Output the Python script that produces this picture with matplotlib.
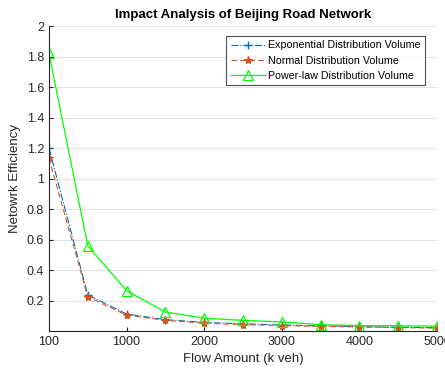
import matplotlib.pyplot as plt
import numpy as np

flow_amount = [100, 500, 1000, 1500, 2000, 2500, 3000, 3500, 4000, 4500, 5000]
exp_eff = [1.20, 0.237, 0.112, 0.075, 0.057, 0.047, 0.040, 0.034, 0.029, 0.025, 0.022]
norm_eff = [1.135, 0.225, 0.105, 0.070, 0.052, 0.043, 0.036, 0.031, 0.027, 0.023, 0.020]
power_eff = [1.82, 0.56, 0.265, 0.125, 0.085, 0.070, 0.060, 0.042, 0.036, 0.035, 0.032]

tick_labels = ['100', '1000', '2000', '3000', '4000', '5000']
y_ticks = [0.2, 0.4, 0.6, 0.8, 1.0, 1.2, 1.4, 1.6, 1.8, 2.0]

plt.rcParams['font.family'] = ['Liberation Sans', 'DejaVu Sans']
plt.rcParams['font.size'] = 8.5

# the first sample (100) sits at the axis origin, the rest on a 500 grid
x_pos = np.arange(len(flow_amount)) * 500

fig = plt.figure(figsize=(4.45, 3.72), dpi=100)
ax = fig.add_axes([0.110, 0.110, 0.872, 0.820])

ax.plot(x_pos, exp_eff, color='#0072BD', linestyle='-.', linewidth=0.8,
        marker='+', markersize=6, markeredgewidth=1.0,
        label='Exponential Distribution Volume')
ax.plot(x_pos, norm_eff, color='#D95319', linestyle=(0, (5, 3)), linewidth=0.8,
        marker='*', markersize=6, markeredgewidth=0.8,
        label='Normal Distribution Volume')
ax.plot(x_pos, power_eff, color='#00FF00', linestyle='-', linewidth=0.9,
        marker='^', markersize=7, markerfacecolor='none', markeredgewidth=0.9,
        label='Power-law Distribution Volume')

ax.set_xlim(0, 5000)
ax.set_ylim(0.0, 2.0)
ax.set_xticks([0, 1000, 2000, 3000, 4000, 5000])
ax.set_xticklabels(tick_labels)
ax.set_yticks(y_ticks)
ax.set_yticklabels(['0.2', '0.4', '0.6', '0.8', '1', '1.2', '1.4', '1.6', '1.8', '2'])

ax.yaxis.grid(True, color='#e3e3e3', linewidth=0.8)
ax.set_axisbelow(True)
for side in ('top', 'right'):
    ax.spines[side].set_visible(False)
for side in ('left', 'bottom'):
    ax.spines[side].set_color('#262626')
    ax.spines[side].set_linewidth(0.8)
ax.tick_params(direction='in', length=3, colors='#262626', labelsize=9)

ax.set_title('Impact Analysis of Beijing Road Network', fontsize=9.5, fontweight='bold', pad=6)
ax.set_xlabel('Flow Amount (k veh)', fontsize=9.5, color='#262626')
ax.set_ylabel('Netowrk Efficiency', fontsize=9.5, color='#262626')

leg = ax.legend(loc='upper right', bbox_to_anchor=(0.969, 0.967), borderaxespad=0,
                fontsize=7.7, frameon=True, fancybox=False, handlelength=3.2,
                borderpad=0.4, labelspacing=0.5, handletextpad=0.3)
leg.get_frame().set_edgecolor('#262626')
leg.get_frame().set_linewidth(0.8)

fig.savefig('out.png', dpi=100)
